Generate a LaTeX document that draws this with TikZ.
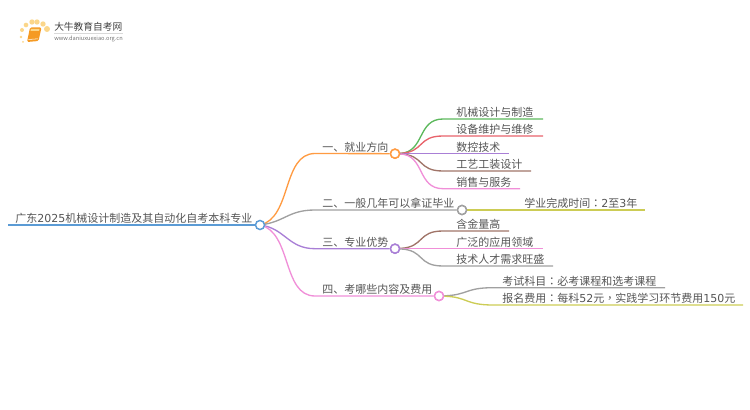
\documentclass[tikz,border=0pt]{standalone}
\usepackage{fontspec}
\setmainfont{Noto Sans CJK SC}
\newfontfamily\puncfont{Noto Sans CJK TC}
\newfontfamily\digitfont{DejaVu Sans}
\newcommand{\dg}[1]{{\digitfont #1}}
\newcommand{\pn}[1]{{\puncfont #1}}
\usetikzlibrary{calc, positioning}
\definecolor{txtgray}{HTML}{555555}
\definecolor{rootblue}{HTML}{5B9BD5}
\definecolor{orangeL}{HTML}{FF9B42}
\definecolor{grayL}{HTML}{A0A0A0}
\definecolor{purpleL}{HTML}{A97FD6}
\definecolor{pinkL}{HTML}{F08FD8}
\definecolor{greenL}{HTML}{5CB85C}
\definecolor{redL}{HTML}{E8636B}
\definecolor{brownL}{HTML}{A07468}
\definecolor{yellowL}{HTML}{CCCC55}
\definecolor{bookO}{HTML}{F59A23}
\definecolor{dotY}{HTML}{FBD68A}

\begin{document}
\begin{tikzpicture}[
  x=0.75pt, y=-0.75pt,
  label/.style={inner sep=0pt, anchor=west, text=txtgray, font=\fontsize{8.25}{10}\selectfont},
  hub/.style={circle, draw, fill=white, line width=1.1pt, minimum size=6.8pt, inner sep=0pt},
  link/.style={line width=1pt},
  dot/.style={circle, fill=dotY, inner sep=0pt}
]
\useasboundingbox (0,0) rectangle (750,410);

% Logo
\foreach \px/\py/\ds in {21/37/2pt, 23/42/1.5pt, 22/30/3pt, 26/25/3.5pt, 32/22/4pt, 37/22/4pt, 43/24/4pt, 47/29/4.5pt}
  \node[dot, minimum size=\ds] at (\px,\py) {};
\fill[bookO, rounded corners=1pt] (30,27.5) -- (41.5,27.5) -- (38.5,41) -- (27,42) -- cycle;
\fill[dotY] (31,29) -- (39.5,29) -- (39,31) -- (30.5,31) -- cycle;
\draw[white, line width=0.4pt] (28.5,39.5) -- (38,38.8);
\node[inner sep=0pt, anchor=west, text=black!75, font=\fontsize{7.3}{9}\selectfont] (brand) at (54,27) {大牛教育自考网};
\draw[black!15, line width=0.5pt] (54,33.5) -- (123,33.5);
\node[inner sep=0pt, anchor=west, text=black!55, font=\fontsize{4.25}{6}\selectfont] (site) at (54,39) {www.daniuxuexiao.org.cn};

% Anchors of the rules
\coordinate (rootS) at (8,225);
\coordinate (b1a) at (315,153.5);
\coordinate (b2a) at (315,210);
\coordinate (b3a) at (315,248.7);
\coordinate (b4a) at (315,296);
\node[hub, draw=orangeL] (hubA) at (395,153.7) {};
\node[hub, draw=grayL] (hubB) at (462,210) {};
\node[hub, draw=purpleL] (hubC) at (395,248.7) {};
\node[hub, draw=pinkL] (hubD) at (439,296) {};

% Root
\draw[rootblue, line width=1.5pt] (rootS) -- (260,225);

% Main branches
\draw[link, orangeL] (260,225) .. controls (292,218) and (282,153.5) .. (b1a) -- (hubA);
\draw[link, grayL] (260,225) .. controls (285,222) and (288,210) .. (b2a) -- (hubB);
\draw[link, purpleL] (260,225) .. controls (285,228) and (288,248.7) .. (b3a) -- (hubC);
\draw[link, pinkL] (260,225) .. controls (292,232) and (282,296) .. (b4a) -- (hubD);

% Leaves of the first branch
\coordinate (a1) at (443,119);
\coordinate (a2) at (443,136);
\coordinate (a3) at (443,153.7);
\coordinate (a4) at (443,171);
\coordinate (a5) at (443,188.7);
\coordinate (a1e) at (543,119);
\coordinate (a2e) at (543,136);
\coordinate (a3e) at (509,153.7);
\coordinate (a4e) at (531,171);
\coordinate (a5e) at (520,188.7);
\draw[link, greenL] (hubA) .. controls (425,152) and (417,119) .. (a1) -- (a1e);
\draw[link, redL] (hubA) .. controls (425,152) and (417,136) .. (a2) -- (a2e);
\draw[link, purpleL] (hubA) -- (a3) -- (a3e);
\draw[link, brownL] (hubA) .. controls (425,155) and (417,171) .. (a4) -- (a4e);
\draw[link, pinkL] (hubA) .. controls (425,155) and (417,188.7) .. (a5) -- (a5e);

% Second branch
\coordinate (d1e) at (645,210);
\draw[link, yellowL] (hubB) -- (d1e);

% Leaves of the third branch
\coordinate (c1) at (443,231);
\coordinate (c2) at (443,248.7);
\coordinate (c3) at (443,266);
\coordinate (c1e) at (509,231);
\coordinate (c2e) at (543,248.7);
\coordinate (c3e) at (553,266);
\draw[link, brownL] (hubC) .. controls (425,247) and (417,231) .. (c1) -- (c1e);
\draw[link, pinkL] (hubC) -- (c2) -- (c2e);
\draw[link, grayL] (hubC) .. controls (425,250) and (417,266) .. (c3) -- (c3e);

% Leaves of the fourth branch
\coordinate (e1) at (493,287.7);
\coordinate (e2) at (493,305);
\coordinate (e1e) at (665,287.7);
\coordinate (e2e) at (743,305);
\draw[link, grayL] (hubD) .. controls (468,295) and (465,287.7) .. (e1) -- (e1e);
\draw[link, yellowL] (hubD) .. controls (468,297) and (465,305) .. (e2) -- (e2e);

% Redraw the hubs above the lines
\foreach \hname/\hcol in {hubA/orangeL, hubB/grayL, hubC/purpleL, hubD/pinkL}
  \draw[\hcol, fill=white, line width=1.1pt] (\hname) circle (3.4pt);
\node[hub, draw=rootblue] (root) at (260,225) {};

% Labels
\node[label] (rootT) at (15,218.5) {广东\dg{2025}机械设计制造及其自动化自考本科专业};
\node[label] (t1) at (322,147) {一、就业方向};
\node[label] (t2) at (322,203) {二、一般几年可以拿证毕业};
\node[label] (t3) at (322,242) {三、专业优势};
\node[label] (t4) at (322,289) {四、考哪些内容及费用};
\node[label] (a1t) at (456,112) {机械设计与制造};
\node[label] (a2t) at (456,129) {设备维护与维修};
\node[label] (a3t) at (456,147) {数控技术};
\node[label] (a4t) at (456,164.5) {工艺工装设计};
\node[label] (a5t) at (456,182) {销售与服务};
\node[label] (d1t) at (524,203) {学业完成时间\pn{：}\dg{2}至\dg{3}年};
\node[label] (c1t) at (456,224) {含金量高};
\node[label] (c2t) at (456,242) {广泛的应用领域};
\node[label] (c3t) at (456,259.5) {技术人才需求旺盛};
\node[label] (e1t) at (502,281) {考试科目\pn{：}必考课程和选考课程};
\node[label] (e2t) at (502,298.5) {报名费用\pn{：}每科\dg{52}元\pn{，}实践学习环节费用\dg{150}元};
\end{tikzpicture}
\end{document}
